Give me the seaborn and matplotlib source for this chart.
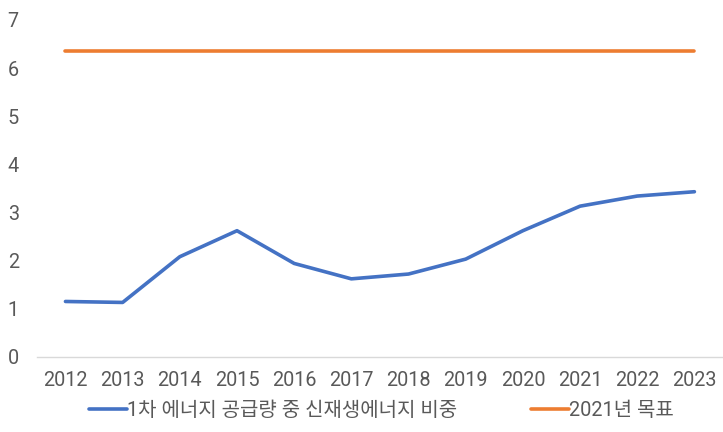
import matplotlib
matplotlib.use("Agg")
import matplotlib.pyplot as plt
import seaborn as sns
import pandas as pd

years = ["2012", "2013", "2014", "2015", "2016", "2017", "2018", "2019", "2020", "2021", "2022", "2023"]
share = [1.15, 1.13, 2.08, 2.62, 1.94, 1.62, 1.72, 2.03, 2.62, 3.13, 3.34, 3.43]
target = [6.35] * 12
series_names = ["1차 에너지 공급량 중 신재생에너지 비중", "2021년 목표"]
y_ticks = [0, 1, 2, 3, 4, 5, 6, 7]

df = pd.DataFrame({
    "year": years * 2,
    "value": share + target,
    "series": [series_names[0]] * len(years) + [series_names[1]] * len(years),
})

sns.set_style("white")
plt.rcParams["font.family"] = ["Roboto", "Noto Sans CJK KR", "DejaVu Sans"]

fig = plt.figure(figsize=(7.23, 4.32), dpi=100)
ax = fig.add_axes([0.051, 0.174, 0.949, 0.78])

sns.lineplot(data=df, x="year", y="value", hue="series",
             palette=["#4472C4", "#ED7D31"], linewidth=2.6, ax=ax,
             sort=False, legend=True)

ax.set_xlim(-0.5, 11.5)
ax.set_ylim(0, 7)
ax.set_yticks(y_ticks)
ax.set_xlabel("")
ax.set_ylabel("")
for s in ["top", "right", "left"]:
    ax.spines[s].set_visible(False)
ax.spines["bottom"].set_color("#D9D9D9")
ax.spines["bottom"].set_linewidth(1)
ax.tick_params(axis="both", length=0, labelsize=14.3, labelcolor="#595959")
ax.tick_params(axis="x", pad=10)
ax.tick_params(axis="y", pad=21)
for lbl in ax.get_yticklabels():
    lbl.set_horizontalalignment("left")

handles, labels = ax.get_legend_handles_labels()
ax.get_legend().remove()
fig.legend(handles, labels, loc="center", bbox_to_anchor=(0.528, 0.049),
           ncol=2, frameon=False, fontsize=14.4, handlelength=1.9, handletextpad=0.0,
           columnspacing=3.7, labelcolor="#595959")
fig.savefig("out.png", dpi=100)
